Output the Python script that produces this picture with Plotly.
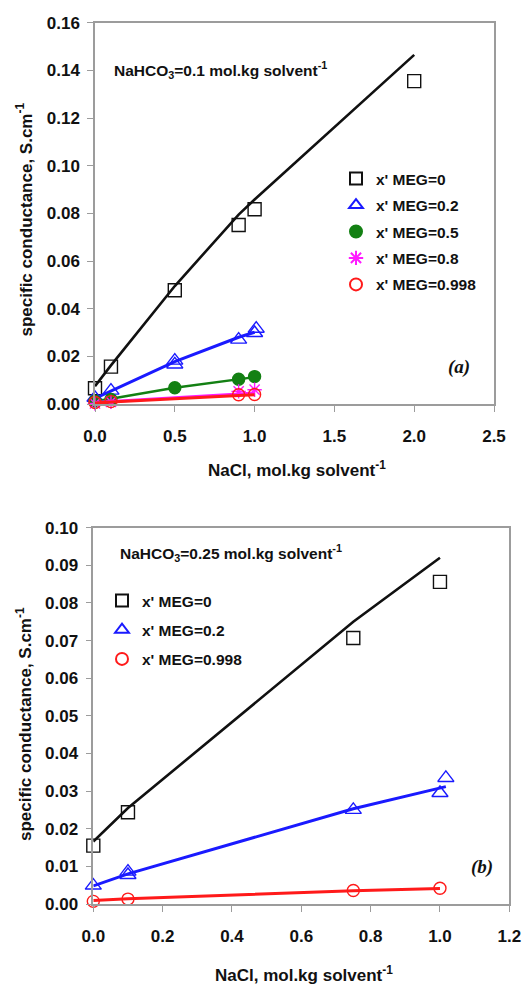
import plotly.graph_objects as go

W, H = 527, 984

# ---- panel (a): NaHCO3 = 0.1 mol/kg solvent ----
a_x_meg0 = [0.0, 0.1, 0.5, 0.9, 1.0, 2.0]
a_y_meg0 = [0.0066, 0.0157, 0.0477, 0.0751, 0.0817, 0.1355]
a_x_meg02 = [0.0, 0.1, 0.5, 0.5, 0.9, 1.0, 1.01]
a_y_meg02 = [0.0026, 0.0056, 0.0182, 0.0166, 0.0270, 0.0298, 0.0316]
a_x_meg05 = [0.0, 0.1, 0.5, 0.9, 1.0]
a_y_meg05 = [0.0012, 0.0019, 0.0068, 0.0104, 0.0115]
a_x_meg08 = [0.0, 0.1, 0.9, 1.0]
a_y_meg08 = [0.0002, 0.0009, 0.0053, 0.0060]
a_x_meg0998 = [0.0, 0.1, 0.9, 1.0]
a_y_meg0998 = [0.0006, 0.0010, 0.0039, 0.0040]

# model curves (a)
a_fx_meg0 = [0.0, 0.1, 0.5, 0.9, 1.0, 2.0]
a_fy_meg0 = [0.0075, 0.0162, 0.0495, 0.0795, 0.0858, 0.1465]
a_fx_meg02 = [0.0, 0.1, 0.5, 0.9, 1.0]
a_fy_meg02 = [0.0024, 0.0055, 0.0178, 0.0280, 0.0301]
a_fx_meg05 = [0.0, 0.1, 0.5, 0.9, 1.0]
a_fy_meg05 = [0.0012, 0.0022, 0.0068, 0.0103, 0.0113]
a_fx_meg08 = [0.0, 0.1, 0.9, 1.0]
a_fy_meg08 = [0.0006, 0.0011, 0.0042, 0.0046]
a_fx_meg0998 = [0.0, 0.1, 0.9, 1.0]
a_fy_meg0998 = [0.0004, 0.0008, 0.0036, 0.0039]

# ---- panel (b): NaHCO3 = 0.25 mol/kg solvent ----
b_x_meg0 = [0.0, 0.1, 0.75, 1.0]
b_y_meg0 = [0.0155, 0.0244, 0.0707, 0.0856]
b_x_meg02 = [0.0, 0.1, 0.1, 0.75, 1.0, 1.017]
b_y_meg02 = [0.0049, 0.0077, 0.0086, 0.0250, 0.0295, 0.0335]
b_x_meg0998 = [0.0, 0.1, 0.75, 1.0]
b_y_meg0998 = [0.0007, 0.0013, 0.0036, 0.0042]

b_fx_meg0 = [0.0, 0.1, 0.75, 1.0]
b_fy_meg0 = [0.0166, 0.0255, 0.0750, 0.0920]
b_fx_meg02 = [0.0, 0.1, 0.75, 1.017]
b_fy_meg02 = [0.0048, 0.0080, 0.0253, 0.0312]
b_fx_meg0998 = [0.0, 0.1, 0.75, 1.0]
b_fy_meg0998 = [0.0009, 0.0014, 0.0035, 0.0041]

a_xticks = [0.0, 0.5, 1.0, 1.5, 2.0, 2.5]
a_yticks = [0.00, 0.02, 0.04, 0.06, 0.08, 0.10, 0.12, 0.14, 0.16]
b_xticks = [0.0, 0.2, 0.4, 0.6, 0.8, 1.0, 1.2]
b_yticks = [0.00, 0.01, 0.02, 0.03, 0.04, 0.05, 0.06, 0.07, 0.08, 0.09, 0.10]

FONT = "Liberation Sans, Arial, sans-serif"
FRAME = "#9c9c9c"


def px(x):
    return x / W


def py(y):
    return 1 - y / H


fig = go.Figure()


def series(xs, ys, fx, fy, name, color, symbol, size, lw, xa, ya, legend, mlw=1.4):
    grp = f"{legend}-{name}"
    fig.add_trace(go.Scatter(
        x=fx, y=fy, mode="lines", line=dict(color=color, width=lw),
        xaxis=xa, yaxis=ya, showlegend=False, legendgroup=grp, hoverinfo="skip"))
    fig.add_trace(go.Scatter(
        x=xs, y=ys, mode="markers", name=name,
        marker=dict(symbol=symbol, size=size, color=color,
                    line=dict(color=color, width=mlw)),
        xaxis=xa, yaxis=ya, legend=legend, legendgroup=grp, cliponaxis=False))


# panel (a)
series(a_x_meg0, a_y_meg0, a_fx_meg0, a_fy_meg0, "x' MEG=0", "#111111", "square-open", 13, 2.6, "x", "y", "legend")
series(a_x_meg02, a_y_meg02, a_fx_meg02, a_fy_meg02, "x' MEG=0.2", "#1a1aff", "triangle-up-open", 14, 3, "x", "y", "legend")
series(a_x_meg05, a_y_meg05, a_fx_meg05, a_fy_meg05, "x' MEG=0.5", "#138013", "circle", 12, 2.4, "x", "y", "legend")
series(a_x_meg08, a_y_meg08, a_fx_meg08, a_fy_meg08, "x' MEG=0.8", "#ff1aff", "asterisk-open", 12, 3, "x", "y", "legend")
series(a_x_meg0998, a_y_meg0998, a_fx_meg0998, a_fy_meg0998, "x' MEG=0.998", "#ff1a1a", "circle-open", 12, 3, "x", "y", "legend")

# panel (b)
series(b_x_meg0, b_y_meg0, b_fx_meg0, b_fy_meg0, "x' MEG=0", "#111111", "square-open", 13, 2.6, "x2", "y2", "legend2")
series(b_x_meg02, b_y_meg02, b_fx_meg02, b_fy_meg02, "x' MEG=0.2", "#1a1aff", "triangle-up-open", 14, 3, "x2", "y2", "legend2")
series(b_x_meg0998, b_y_meg0998, b_fx_meg0998, b_fy_meg0998, "x' MEG=0.998", "#ff1a1a", "circle-open", 12, 3, "x2", "y2", "legend2")

axis_common = dict(
    showgrid=False, zeroline=False, showline=True, mirror=True,
    linecolor=FRAME, linewidth=1.5, ticks="outside", ticklen=6,
    tickcolor=FRAME, tickwidth=1.2, automargin=False,
    tickfont=dict(family=FONT, size=17, color="#111111", weight="bold"),
)

fig.update_layout(
    width=W, height=H,
    margin=dict(l=0, r=0, t=0, b=0, autoexpand=False),
    paper_bgcolor="white", plot_bgcolor="white",
    xaxis=dict(domain=[px(95), px(494)], range=[0, 2.5], tickvals=a_xticks,
               tickformat=".1f", anchor="y", ticklabelstandoff=10, **axis_common),
    yaxis=dict(domain=[py(404), py(22.7)], range=[0, 0.16], tickvals=a_yticks,
               tickformat=".2f", anchor="x", ticklabelstandoff=4, **axis_common),
    xaxis2=dict(domain=[px(93.3), px(509.3)], range=[0, 1.2], tickvals=b_xticks,
                tickformat=".1f", anchor="y2", ticklabelstandoff=10, **axis_common),
    yaxis2=dict(domain=[py(904), py(527.7)], range=[0, 0.10], tickvals=b_yticks,
                tickformat=".2f", anchor="x2", ticklabelstandoff=4, **axis_common),
    legend=dict(x=px(336), y=py(162), xanchor="left", yanchor="top",
                bgcolor="rgba(0,0,0,0)", itemsizing="constant", tracegroupgap=3.3,
                font=dict(family=FONT, size=15.5, color="#111111", weight="bold")),
    legend2=dict(x=px(102), y=py(584), xanchor="left", yanchor="top",
                 bgcolor="rgba(0,0,0,0)", itemsizing="constant", tracegroupgap=6,
                 font=dict(family=FONT, size=15.5, color="#111111", weight="bold")),
)

title_font = dict(family=FONT, size=17, color="#111111", weight="bold")
ann = [
    dict(text="NaHCO<sub>3</sub>=0.1 mol.kg solvent<sup>-1</sup>", x=px(112), y=py(70),
         xanchor="left", yanchor="middle", font=dict(family=FONT, size=15.5, color="#111111", weight="bold")),
    dict(text="NaHCO<sub>3</sub>=0.25 mol.kg solvent<sup>-1</sup>", x=px(118), y=py(553),
         xanchor="left", yanchor="middle", font=dict(family=FONT, size=15.5, color="#111111", weight="bold")),
    dict(text="<b><i>(a)</i></b>", x=px(458.5), y=py(367), xanchor="center", yanchor="middle",
         font=dict(family="Liberation Serif, Times New Roman, serif", size=19, color="#111111")),
    dict(text="<b><i>(b)</i></b>", x=px(482), y=py(867), xanchor="center", yanchor="middle",
         font=dict(family="Liberation Serif, Times New Roman, serif", size=19, color="#111111")),
    dict(text="NaCl, mol.kg solvent<sup>-1</sup>", x=px(297), y=py(469),
         xanchor="center", yanchor="middle", font=title_font),
    dict(text="NaCl, mol.kg solvent<sup>-1</sup>", x=px(304), y=py(974),
         xanchor="center", yanchor="middle", font=title_font),
    dict(text="specific conductance, S.cm<sup>-1</sup>", x=px(24), y=py(219.5), textangle=-90,
         xanchor="center", yanchor="middle", font=title_font),
    dict(text="specific conductance, S.cm<sup>-1</sup>", x=px(24), y=py(724), textangle=-90,
         xanchor="center", yanchor="middle", font=title_font),
]
for a in ann:
    a.update(xref="paper", yref="paper", showarrow=False)
fig.update_layout(annotations=ann)

fig.write_html("out.html")
